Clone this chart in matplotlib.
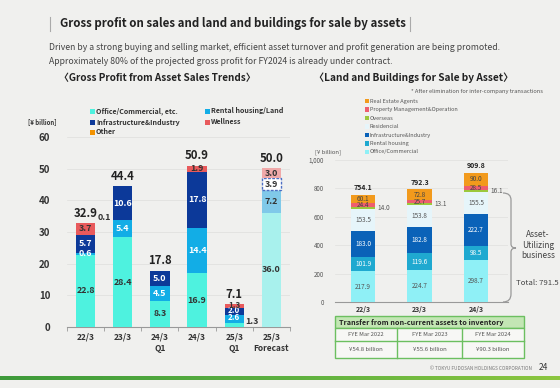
import matplotlib
matplotlib.use("Agg")
import matplotlib.pyplot as plt
from matplotlib.patches import Rectangle, PathPatch
from matplotlib.path import Path
from matplotlib.colors import LinearSegmentedColormap
import numpy as np

plt.rcParams['font.family'] = ['Noto Sans CJK JP', 'DejaVu Sans']

# ---------------- data: left chart ----------------
left_cats = ['22/3', '23/3', '24/3\nQ1', '24/3', '25/3\nQ1', '25/3\nForecast']
office = [22.8, 28.4, 8.3, 16.9, 1.3, 36.0]
rental = [0.6, 5.4, 4.5, 14.4, 2.6, 7.2]
infra = [5.7, 10.6, 5.0, 17.8, 2.0, 3.9]
wellness = [3.7, 0.0, 0.0, 1.9, 1.3, 3.0]
other = [0.1, 0.0, 0.0, 0.0, 0.0, 0.0]
left_totals = [32.9, 44.4, 17.8, 50.9, 7.1, 50.0]
left_yticks = [0, 10, 20, 30, 40, 50, 60]
left_series_names = ['Office/Commercial, etc.', 'Rental housing/Land',
                     'Infrastructure&Industry', 'Wellness', 'Other']

# ---------------- data: right chart ----------------
right_cats = ['22/3', '23/3', '24/3']
r_office = [217.9, 224.7, 298.7]
r_rental = [101.9, 119.6, 98.5]
r_infra = [183.0, 182.8, 222.7]
r_resid = [153.5, 153.8, 155.5]
r_overseas = [14.0, 13.1, 16.1]
r_pm = [24.4, 25.7, 28.5]
r_rea = [60.1, 72.8, 90.0]
right_totals = [754.1, 792.3, 909.8]
right_yticks = [0, 200, 400, 600, 800, 1000]
right_yticklabels = ['0', '200', '400', '600', '800', '1,000']
right_series_names = ['Office/Commercial', 'Rental housing', 'Infrastructure&Industry',
                      'Residencial', 'Overseas', 'Property Management&Operation',
                      'Real Estate Agents']

# ---------------- data: table ----------------
table_title = 'Transfer from non-current assets to inventory'
table_years = ['FYE Mar 2022', 'FYE Mar 2023', 'FYE Mar 2024']
table_values = ['¥54.8 billion', '¥55.6 billion', '¥90.3 billion']

W, H = 560, 388
BG = '#f0f0ee'
fig = plt.figure(figsize=(W / 100, H / 100), dpi=100, facecolor=BG)


def fx(x):
    return x / W


def fy(y):
    return 1 - y / H


# ---------------- header ----------------
fig.lines.append(plt.Line2D([fx(50), fx(50)], [fy(17), fy(31)], transform=fig.transFigure,
                            color='#aaaaaa', lw=0.8))
fig.lines.append(plt.Line2D([fx(410), fx(410)], [fy(17), fy(31)], transform=fig.transFigure,
                            color='#aaaaaa', lw=0.8))
fig.text(fx(60), fy(24), 'Gross profit on sales and land and buildings for sale by assets',
         fontsize=8.3, fontweight='bold', color='#222222', ha='left', va='center')
fig.text(fx(49), fy(47), 'Driven by a strong buying and selling market, efficient asset turnover and profit '
         'generation are being promoted.', fontsize=6.25, color='#444444', ha='left', va='center')
fig.text(fx(49), fy(61), 'Approximately 80% of the projected gross profit for FY2024 is already under contract.',
         fontsize=6.25, color='#444444', ha='left', va='center')

# ---------------- left chart ----------------
c_office = ['#4ef2df'] * 5 + ['#a8f1ed']
c_rental = ['#12ade6'] * 5 + ['#80c9e9']
c_infra = ['#0c3999'] * 5 + ['#ffffff']
c_well = ['#e85a5c'] * 5 + ['#f0a9a9']
c_other = ['#f39200'] * 6

axL = fig.add_axes([fx(67), fy(327), 223 / W, 190 / H])
axL.set_facecolor('none')
x = np.arange(len(left_cats))
bw = 0.52
bottom = np.zeros(len(x))
series = [(office, c_office), (rental, c_rental), (infra, c_infra), (wellness, c_well), (other, c_other)]
bars_all = []
for vals, cols in series:
    b = axL.bar(x, vals, bw, bottom=bottom, color=cols, linewidth=0, zorder=3)
    bars_all.append(b)
    bottom = bottom + np.array(vals)
fb = bars_all[2][5]
fb.set_edgecolor('#4d6fc4')
fb.set_linewidth(1.0)
fb.set_linestyle((0, (2, 1)))

axL.set_xlim(-0.5, 5.5)
axL.set_ylim(0, 60)
axL.set_yticks(left_yticks)
axL.tick_params(axis='y', length=0, pad=12, labelsize=7, labelcolor='#333333')
for t in axL.get_yticklabels():
    t.set_fontweight('bold')
axL.set_xticks(x)
axL.set_xticklabels(left_cats, fontsize=6.0, fontweight='bold', color='#333333', linespacing=1.4)
axL.set_xticks(np.arange(-0.5, 6, 1), minor=True)
axL.tick_params(axis='x', which='major', length=0, pad=4)
axL.tick_params(axis='x', which='minor', length=3, color='#999999', direction='out')
for s in ['top', 'right', 'left']:
    axL.spines[s].set_visible(False)
axL.spines['bottom'].set_color('#999999')
axL.spines['bottom'].set_linewidth(0.8)
for yv in left_yticks[1:]:
    axL.axhline(yv, color='#dededc', lw=0.5, zorder=0)

lab_fs = 6.4
cum = np.zeros(len(x))
for si, (vals, cols) in enumerate(series):
    for i, v in enumerate(vals):
        if v <= 0:
            continue
        mid = cum[i] + v / 2
        if i == 5:
            col = '#333333'
        elif si in (1, 2):
            col = 'white'
        else:
            col = '#333333'
        if si == 4:
            axL.text(i + 0.5, cum[i] + v + 0.1, f'{v:.1f}', fontsize=lab_fs, fontweight='bold',
                     color='#333333', ha='center', va='bottom', zorder=5)
        elif i == 4 and si == 0:
            axL.text(i + 0.47, 0.4, f'{v:.1f}', fontsize=lab_fs, fontweight='bold',
                     color='#333333', ha='center', va='bottom', zorder=5)
        elif i == 4:
            axL.text(i, mid + 0.3, f'{v:.1f}', fontsize=5.8, fontweight='bold', color=col,
                     ha='center', va='center', zorder=5)
        else:
            axL.text(i, mid, f'{v:.1f}', fontsize=lab_fs, fontweight='bold', color=col,
                     ha='center', va='center', zorder=5)
        cum[i] += v
for i, t in enumerate(left_totals):
    axL.text(i, bottom[i] + 1.0, f'{t:.1f}', fontsize=8.2, fontweight='bold', color='#222222',
             ha='center', va='bottom', zorder=5)

fig.text(fx(157), fy(78), '〈Gross Profit from Asset Sales Trends〉', fontsize=7.15, fontweight='bold',
         color='#222222', ha='center', va='center')
fig.text(fx(28), fy(122), '[¥ billion]', fontsize=4.3, fontweight='bold', color='#333333',
         ha='left', va='center')
leg_pos = [(92, 111), (207, 111), (92, 122), (207, 122), (92, 132)]
leg_cols = ['#4ef2df', '#12ade6', '#0c3999', '#e85a5c', '#f39200']
for (lx, ly), name, c in zip(leg_pos, left_series_names, leg_cols):
    fig.patches.append(Rectangle((fx(lx - 2.5), fy(ly + 2.5)), 5 / W, 5 / H, transform=fig.transFigure,
                                 facecolor=c, edgecolor='none'))
    fig.text(fx(lx + 4), fy(ly), name, fontsize=5.1, fontweight='bold', color='#333333',
             ha='left', va='center')

# ---------------- right chart ----------------
r_series = [r_office, r_rental, r_infra, r_resid, r_overseas, r_pm, r_rea]
r_cols = ['#8ff0f6', '#1fa9d0', '#0a62b8', '#e6f5fa', '#9cc83c', '#ee5e6f', '#f29a1c']
r_txt = ['#555555', 'white', 'white', '#555555', '#555555', '#444444', '#444444']

axR = fig.add_axes([fx(335), fy(302), 173 / W, 142 / H])
axR.set_facecolor('none')
xr = np.arange(len(right_cats))
rbw = 0.43
rb = np.zeros(len(xr))
for si, (vals, c) in enumerate(zip(r_series, r_cols)):
    axR.bar(xr, vals, rbw, bottom=rb, color=c, linewidth=0, zorder=3)
    for i, v in enumerate(vals):
        if si == 4:
            axR.text(i + 0.26, rb[i] + v / 2, f'{v:.1f}', fontsize=4.6, color='#555555',
                     ha='left', va='center', zorder=5)
        else:
            axR.text(i, rb[i] + v / 2, f'{v:.1f}', fontsize=4.6, color=r_txt[si],
                     ha='center', va='center', zorder=5)
    rb = rb + np.array(vals)
for i, t in enumerate(right_totals):
    axR.text(i, rb[i] + 26, f'{t:.1f}', fontsize=5.0, fontweight='bold', color='#222222',
             ha='center', va='bottom', zorder=5)
axR.set_xlim(-0.5, 2.57)
axR.set_ylim(0, 1000)
axR.set_yticks(right_yticks)
axR.set_yticklabels(right_yticklabels)
axR.tick_params(axis='y', length=0, pad=8, labelsize=4.5, labelcolor='#555555')
axR.set_xticks(xr)
axR.set_xticklabels(right_cats, fontsize=5.0, fontweight='bold', color='#333333')
axR.tick_params(axis='x', length=0, pad=3)
for s in ['top', 'right', 'left']:
    axR.spines[s].set_visible(False)
axR.spines['bottom'].set_color('#999999')
axR.spines['bottom'].set_linewidth(0.8)
for yv in right_yticks[1:]:
    axR.axhline(yv, color='#e0e0de', lw=0.5, zorder=0)

fig.text(fx(414), fy(78), '〈Land and Buildings for Sale by Asset〉', fontsize=7.3, fontweight='bold',
         color='#222222', ha='center', va='center')
fig.text(fx(543), fy(91), '* After elimination for inter-company transactions', fontsize=4.15,
         color='#555555', ha='right', va='center')
fig.text(fx(315), fy(152), '[¥ billion]', fontsize=4.3, color='#555555', ha='left', va='center')
leg_y = [101, 109.5, 118, 126.5, 135, 143.5, 152]
for ly, name, c in zip(leg_y, right_series_names[::-1], r_cols[::-1]):
    fig.patches.append(Rectangle((fx(364.5), fy(ly + 2.3)), 4.6 / W, 4.6 / H, transform=fig.transFigure,
                                 facecolor=c, edgecolor='none'))
    fig.text(fx(370), fy(ly), name, fontsize=4.0, color='#555555', ha='left', va='center')

# bracket
verts = [(fx(503), fy(193)), (fx(511), fy(193)), (fx(511), fy(200)),
         (fx(511), fy(244)), (fx(511), fy(248)), (fx(516), fy(248)),
         (fx(511), fy(248)), (fx(511), fy(252)),
         (fx(511), fy(294)), (fx(511), fy(302)), (fx(503), fy(302))]
codes = [Path.MOVETO, Path.CURVE3, Path.CURVE3,
         Path.LINETO, Path.CURVE3, Path.CURVE3,
         Path.CURVE3, Path.CURVE3,
         Path.LINETO, Path.CURVE3, Path.CURVE3]
fig.patches.append(PathPatch(Path(verts, codes), transform=fig.transFigure, facecolor='none',
                             edgecolor='#999999', lw=0.9))
fig.text(fx(538), fy(245), 'Asset-\nUtilizing\nbusiness', fontsize=6.0, color='#444444',
         ha='center', va='center', linespacing=1.2)
fig.text(fx(537.5), fy(283), 'Total: 791.5', fontsize=5.6, color='#444444', ha='center', va='center')

# ---------------- table ----------------
tl, tr = 335, 524
cols_x = [335, 397, 462, 524]
rows_y = [316, 328, 341, 358]
green = '#6cbf60'
fig.patches.append(Rectangle((fx(tl), fy(rows_y[1])), (tr - tl) / W, (rows_y[1] - rows_y[0]) / H,
                             transform=fig.transFigure, facecolor='#c3e6b4', edgecolor=green, lw=1))
fig.patches.append(Rectangle((fx(tl), fy(rows_y[3])), (tr - tl) / W, (rows_y[3] - rows_y[1]) / H,
                             transform=fig.transFigure, facecolor='#f7f7f5', edgecolor=green, lw=1))
for cx in cols_x[1:-1]:
    fig.lines.append(plt.Line2D([fx(cx), fx(cx)], [fy(rows_y[1]), fy(rows_y[3])],
                                transform=fig.transFigure, color=green, lw=1))
fig.lines.append(plt.Line2D([fx(tl), fx(tr)], [fy(rows_y[2]), fy(rows_y[2])],
                            transform=fig.transFigure, color=green, lw=1))
fig.text(fx(339), fy(322), table_title, fontsize=5.2, fontweight='bold', color='#222222',
         ha='left', va='center')
for j in range(3):
    cx = (cols_x[j] + cols_x[j + 1]) / 2
    fig.text(fx(cx), fy(334.5), table_years[j], fontsize=4.2, color='#555555', ha='center', va='center')
    fig.text(fx(cx), fy(349.5), table_values[j], fontsize=4.3, color='#555555', ha='center', va='center')

# ---------------- footer ----------------
fig.text(fx(532), fy(368), '© TOKYU FUDOSAN HOLDINGS CORPORATION', fontsize=3.4, color='#777777',
         ha='right', va='center')
fig.text(fx(543), fy(368), '24', fontsize=6, color='#333333', ha='center', va='center')
grad = np.linspace(0, 1, 256).reshape(1, -1)
axG = fig.add_axes([0, fy(380), 1, 4 / H])
cmap = LinearSegmentedColormap.from_list('g', ['#3e9a3a', '#5cb040', '#8cc63f'])
axG.imshow(grad, aspect='auto', cmap=cmap)
axG.axis('off')

fig.savefig('out.png', dpi=100, facecolor=BG)
